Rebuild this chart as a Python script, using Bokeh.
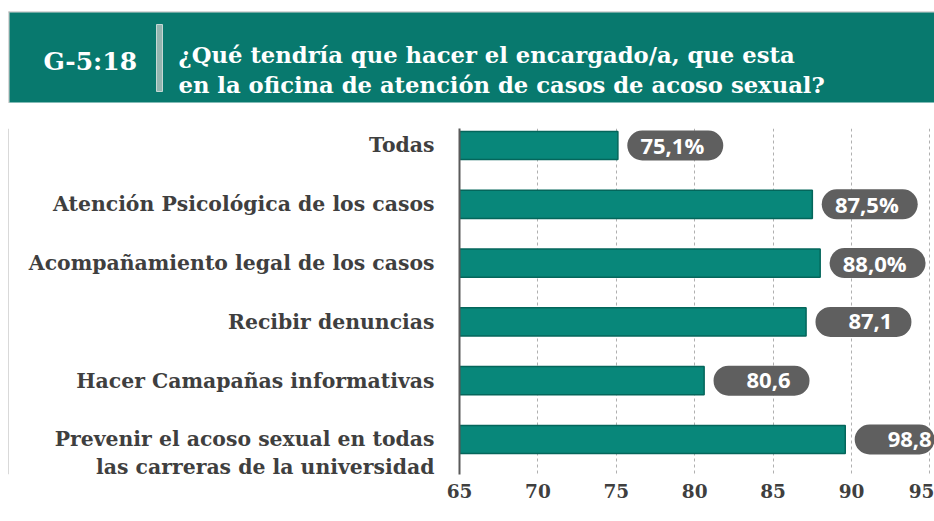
from bokeh.plotting import figure
from bokeh.layouts import column, row
from bokeh.models import Range1d, FixedTicker, ColumnDataSource
from bokeh.core.properties import value
from bokeh.embed import file_html
from bokeh.resources import INLINE

# ---------------- data ----------------
categories = [
    "Todas",
    "Atención Psicológica de los casos",
    "Acompañamiento legal de los casos",
    "Recibir denuncias",
    "Hacer Camapañas informativas",
    "Prevenir el acoso sexual en todas\nlas carreras de la universidad",
]
values = [75.1, 87.5, 88.0, 87.1, 80.6, 89.6]
value_labels = ["75,1%", "87,5%", "88,0%", "87,1", "80,6", "98,8"]
x_ticks = [65, 70, 75, 80, 85, 90, 95]
header_code = "G-5:18"
title_lines = [
    "¿Qué tendría que hacer el encargado/a, que esta",
    "en la oficina de atención de casos de acoso sexual?",
]

# ---------------- styles ----------------
TEAL_BAR = "#08877a"
TEAL_EDGE = "#04665b"
TEAL_HEAD = "#08796e"
PILL = "#5f5f5f"
TXT = "#3f3f3f"
FRAME = "#b4b4b4"
SERIF = "DejaVu Serif"
PILL_GAP = 0.6      # data units between bar end and pill
PILL_LEN = 6.12     # data units (pill length)
LINE_SHIFT = 0.23   # category units per extra label line

WIN_W, WIN_H = 934, 521
HEAD_H = 103
STRIP_W = 9
MAIN_W, MAIN_H = WIN_W - STRIP_W, WIN_H - HEAD_H

# ---------------- header ----------------
h = figure(width=WIN_W, height=HEAD_H, output_backend="svg", toolbar_location=None,
           x_range=Range1d(0, WIN_W), y_range=Range1d(HEAD_H, 0),
           x_axis_type=None, y_axis_type=None)
h.min_border = 0
h.outline_line_color = None
h.grid.visible = False
h.quad(left=[8], right=[WIN_W], top=[11], bottom=[12], fill_color=FRAME, line_color=None)
h.quad(left=[8], right=[9], top=[11], bottom=[HEAD_H], fill_color=FRAME, line_color=None)
h.quad(left=[9], right=[WIN_W], top=[12], bottom=[102], fill_color=TEAL_HEAD, line_color=None)
h.quad(left=[156], right=[162], top=[24], bottom=[91], fill_color="#93b5b0",
       line_color="#c5d8d5", line_width=1)
h.text(x=[43], y=[61], text=[header_code], text_font=value(SERIF),
       text_font_style="bold", text_font_size="25px", text_color="white",
       text_baseline="alphabetic")
h.text(x=[178, 178], y=[54, 84], text=title_lines, text_font=value(SERIF),
       text_font_style="bold", text_font_size="22.7px", text_color="white",
       text_baseline="alphabetic")

# ---------------- left frame strip ----------------
s = figure(width=STRIP_W, height=MAIN_H, output_backend="svg", toolbar_location=None,
           x_range=Range1d(0, STRIP_W), y_range=Range1d(0, MAIN_H),
           x_axis_type=None, y_axis_type=None)
s.min_border = 0
s.outline_line_color = None
s.grid.visible = False
s.quad(left=[8], right=[9], bottom=[0], top=[MAIN_H], fill_color=FRAME, line_color=None)

# ---------------- main chart ----------------
pos = list(range(len(categories)))
tick_pos = [i + c.count("\n") * LINE_SHIFT for i, c in zip(pos, categories)]
pill_left = [v + PILL_GAP for v in values]
pill_right = [l + PILL_LEN for l in pill_left]
src = ColumnDataSource(dict(y=pos, v=values, lab=value_labels,
                            pl=pill_left, pr=pill_right))

p = figure(width=MAIN_W, height=MAIN_H, output_backend="svg", toolbar_location=None,
           x_range=Range1d(65, 95.29), y_range=Range1d(5.595, -0.289),
           min_border_left=450, min_border_right=0, min_border_top=25,
           min_border_bottom=47)
p.outline_line_color = None

p.xaxis.ticker = FixedTicker(ticks=x_ticks)
p.xaxis.axis_line_color = None
p.xaxis.major_tick_line_color = None
p.xaxis.minor_tick_line_color = None
p.xaxis.major_label_standoff = 3
p.xaxis.major_label_text_font = SERIF
p.xaxis.major_label_text_font_style = "bold"
p.xaxis.major_label_text_font_size = "18.5px"
p.xaxis.major_label_text_color = TXT

p.yaxis.ticker = FixedTicker(ticks=tick_pos)
p.yaxis.major_label_overrides = {t: c for t, c in zip(tick_pos, categories)}
p.yaxis.axis_line_color = "#5a5a5a"
p.yaxis.axis_line_width = 2
p.yaxis.major_tick_line_color = None
p.yaxis.minor_tick_line_color = None
p.yaxis.major_label_standoff = 19
p.yaxis.major_label_text_font = SERIF
p.yaxis.major_label_text_font_style = "bold"
p.yaxis.major_label_text_font_size = "20.4px"
p.yaxis.major_label_text_color = TXT

p.ygrid.grid_line_color = None
p.xgrid.ticker = FixedTicker(ticks=x_ticks)
p.xgrid.grid_line_color = "#b0b0b0"
p.xgrid.grid_line_dash = "3 3"
p.xgrid.grid_line_width = 1

p.hbar(y="y", left=65, right="v", height=0.48, source=src,
       fill_color=TEAL_BAR, line_color=TEAL_EDGE, line_width=1.5)

p.hbar(y="y", left="pl", right="pr", height=0.51, source=src,
       fill_color=PILL, line_color=None, border_radius=15)
p.text(x="pr", y="y", text="lab", source=src, x_offset=-19,
       text_align="right", text_baseline="middle", text_color="white",
       text_font=value("Open Sans"), text_font_style="bold",
       text_font_size="22px")

layout = column(h, row(s, p, spacing=0), spacing=0)
open("out.html", "w").write(file_html(layout, INLINE))
